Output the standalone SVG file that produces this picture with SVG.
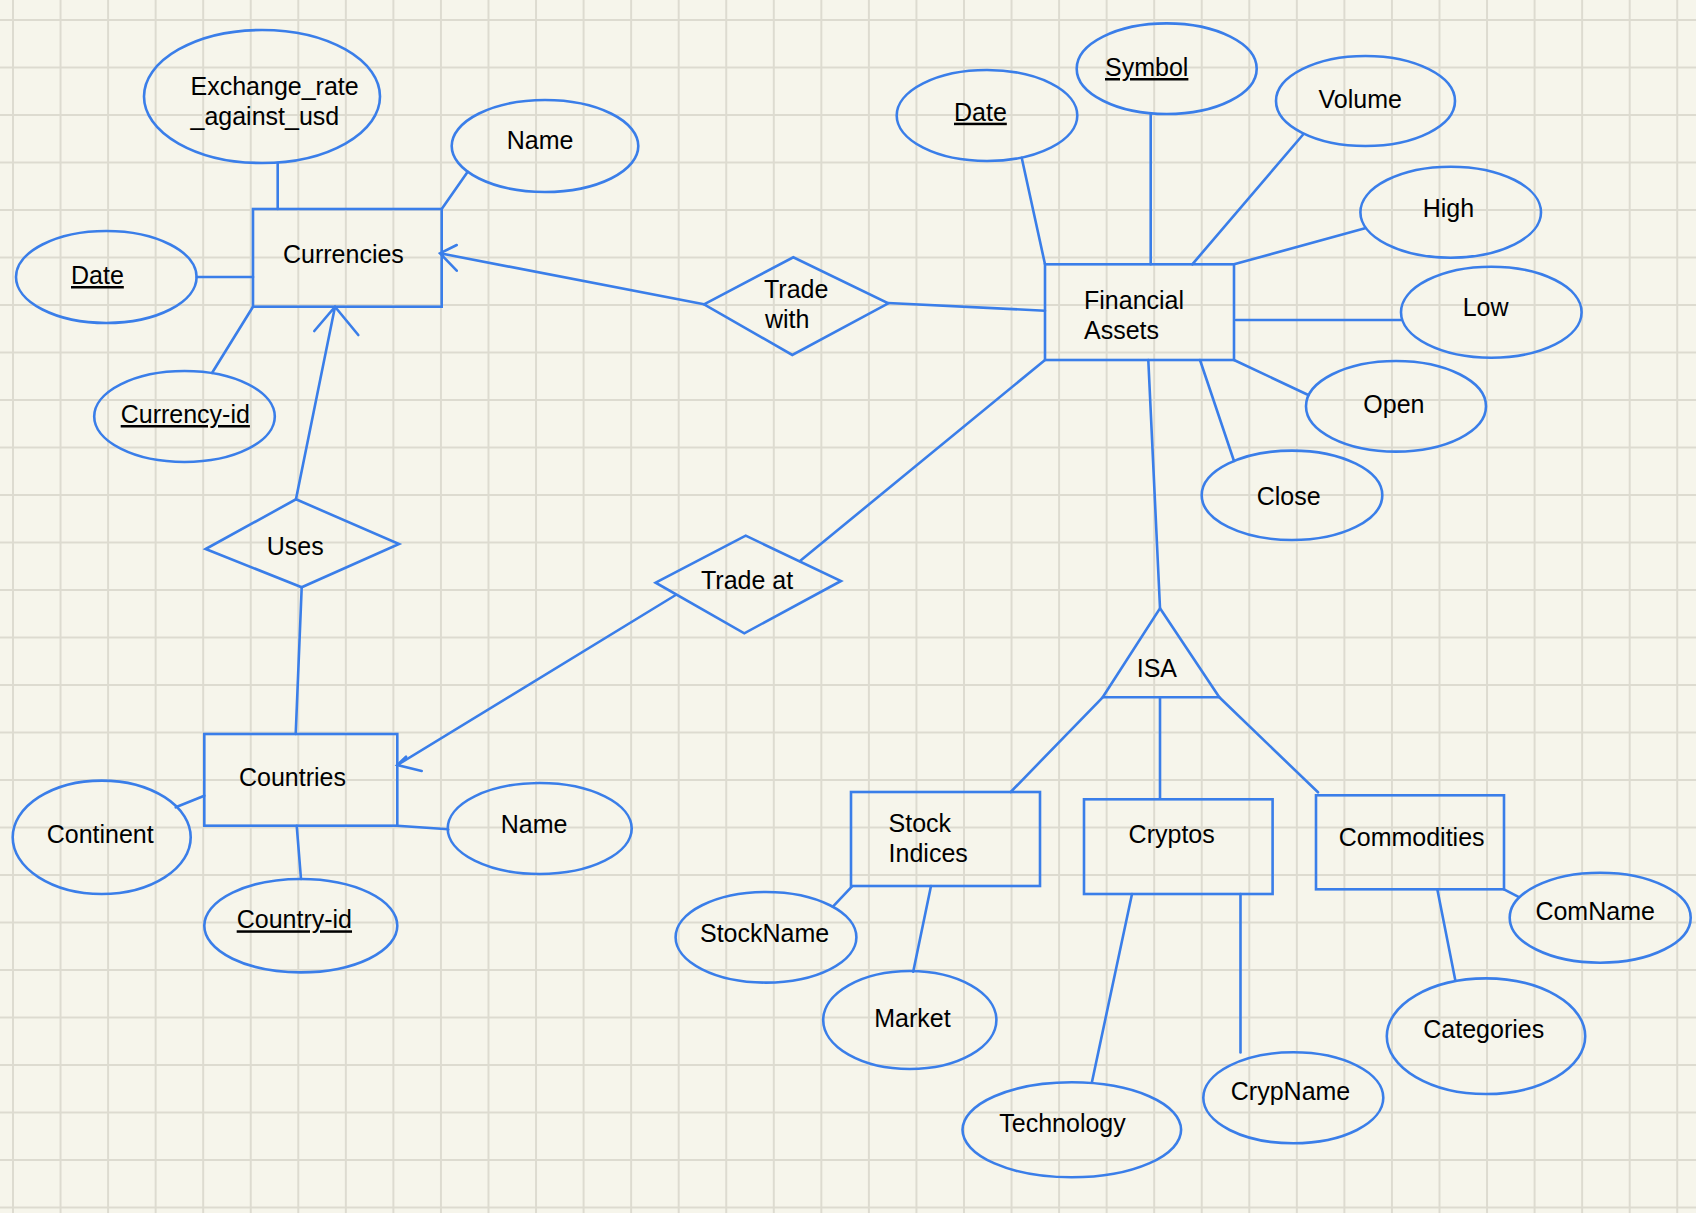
<svg xmlns="http://www.w3.org/2000/svg" width="1696" height="1213" viewBox="0 0 1696 1213">
<defs>
<pattern id="grid" patternUnits="userSpaceOnUse" x="12" y="19" width="47.55" height="47.5">
<path d="M1 0V47.5M0 1H47.55" stroke="#dddbd0" stroke-width="2" fill="none"/>
</pattern>
<style>
.s{fill:none;stroke:#3a7ee9;stroke-width:2.6;stroke-linecap:round;stroke-linejoin:miter}
.n{fill:none;stroke:#3a7ee9;stroke-width:2.6}
.t{font-family:"Liberation Sans",Arial,Helvetica,sans-serif;font-size:25px;fill:#000}
.u{text-decoration:underline}
</style>
</defs>
<rect x="0" y="0" width="1696" height="1213" fill="#f6f5eb"/>
<rect x="0" y="0" width="1696" height="1213" fill="url(#grid)"/>

<g id="connectors">
<path class="s" d="M277.7 163V209"/>
<path class="s" d="M467.7 171.7L441.7 209"/>
<path class="s" d="M196.7 277H253"/>
<path class="s" d="M212 373L253 306.7"/>
<path class="s" d="M296 499L335 306.7M314.3 331L335 306.7L358.3 335"/>
<path class="s" d="M704 304.3L440 253.3M456.7 245L440 253.3L456.7 270.7"/>
<path class="s" d="M888 303L1045 310.7"/>
<path class="s" d="M1021.7 157.7L1045 264.3"/>
<path class="s" d="M1150.7 114V264.3"/>
<path class="s" d="M1302.7 135L1192.3 264.3"/>
<path class="s" d="M1234 264.3L1365 228.3"/>
<path class="s" d="M1236 320H1401"/>
<path class="s" d="M1234 360L1308.3 395"/>
<path class="s" d="M1200 360L1234 461"/>
<path class="s" d="M1045 360L800 561"/>
<path class="s" d="M675.7 595L397.3 765M406 756.7L397.3 765L421.7 771"/>
<path class="s" d="M1148.3 360L1160 608"/>
<path class="s" d="M301.7 587.3L295.7 734"/>
<path class="s" d="M175.7 807.3L204.3 795.7"/>
<path class="s" d="M296.7 825.7L301 879"/>
<path class="s" d="M397.3 825.7L448.3 829.3"/>
<path class="s" d="M1102.7 697.3L1010.7 792"/>
<path class="s" d="M1160 697.3V798"/>
<path class="s" d="M1219.3 697.3L1318 792.3"/>
<path class="s" d="M851.8 886.7L832.9 906.7"/>
<path class="s" d="M931 886L913.2 971.7"/>
<path class="s" d="M1132 894L1091.8 1082.7"/>
<path class="s" d="M1240.5 894V1052.5"/>
<path class="s" d="M1504 889.3L1518 896.7"/>
<path class="s" d="M1437.3 889.3L1455.4 980.7"/>
</g>

<g id="currencies"><rect class="n" x="253" y="209" width="188.7" height="97.7"/><text class="t" x="283" y="263">Currencies</text></g>
<g id="exchange-rate"><ellipse class="n" cx="262" cy="96.5" rx="118" ry="66.5"/><text class="t" x="190.5" y="95">Exchange_rate</text><text class="t" x="190.5" y="125">_against_usd</text></g>
<g id="currency-name"><ellipse class="n" cx="545" cy="146" rx="93.3" ry="46"/><text class="t" x="506.7" y="149">Name</text></g>
<g id="currency-date"><ellipse class="n" cx="106.3" cy="277" rx="90.3" ry="46"/><text class="t u" x="71" y="284">Date</text></g>
<g id="currency-id"><ellipse class="n" cx="184.5" cy="416.5" rx="90.3" ry="45.5"/><text class="t u" x="120.7" y="423">Currency-id</text></g>

<g id="trade-with"><path class="n" d="M704 304.3L793.3 257.3L888.3 303.3L792.3 355Z"/><text class="t" x="764" y="297.7">Trade</text><text class="t" x="765" y="327.7">with</text></g>

<g id="financial-assets"><rect class="n" x="1045" y="264.3" width="189" height="95.7"/><text class="t" x="1084" y="309">Financial</text><text class="t" x="1084" y="339">Assets</text></g>
<g id="fa-date"><ellipse class="n" cx="987" cy="115.5" rx="90.3" ry="45.5"/><text class="t u" x="954" y="120.7">Date</text></g>
<g id="fa-symbol"><ellipse class="n" cx="1166.7" cy="68.7" rx="90" ry="45.3"/><text class="t u" x="1105" y="76">Symbol</text></g>
<g id="fa-volume"><ellipse class="n" cx="1365.5" cy="101" rx="89.5" ry="45"/><text class="t" x="1318.5" y="108.3">Volume</text></g>
<g id="fa-high"><ellipse class="n" cx="1450.7" cy="212.2" rx="90.3" ry="45.5"/><text class="t" x="1422.7" y="216.7">High</text></g>
<g id="fa-low"><ellipse class="n" cx="1491.3" cy="312.2" rx="90.3" ry="45.5"/><text class="t" x="1462.7" y="316">Low</text></g>
<g id="fa-open"><ellipse class="n" cx="1396" cy="406.3" rx="90" ry="45.3"/><text class="t" x="1363.3" y="413.3">Open</text></g>
<g id="fa-close"><ellipse class="n" cx="1292" cy="495.3" rx="90.3" ry="44.7"/><text class="t" x="1256.7" y="505">Close</text></g>

<g id="uses"><path class="n" d="M205.7 549L296 499.3L399 544L301.7 587.3Z"/><text class="t" x="266.7" y="555">Uses</text></g>
<g id="trade-at"><path class="n" d="M655.7 582.7L745.7 535.7L841 581L744.3 633.3Z"/><text class="t" x="701" y="589.3">Trade at</text></g>

<g id="countries"><rect class="n" x="204.3" y="734" width="193" height="91.7"/><text class="t" x="239" y="786">Countries</text></g>
<g id="continent"><ellipse class="n" cx="101.7" cy="837.3" rx="89" ry="56.7"/><text class="t" x="46.7" y="843.3">Continent</text></g>
<g id="country-id"><ellipse class="n" cx="300.8" cy="925.7" rx="96.5" ry="46.7"/><text class="t u" x="236.7" y="928.3">Country-id</text></g>
<g id="country-name"><ellipse class="n" cx="539.7" cy="828.5" rx="92" ry="45.5"/><text class="t" x="500.8" y="833">Name</text></g>

<g id="isa"><path class="n" d="M1160 608.3L1219.3 697.3H1102.7Z"/><text class="t" x="1136.7" y="677.3">ISA</text></g>

<g id="stock-indices"><rect class="n" x="851" y="792" width="189" height="94"/><text class="t" x="888.6" y="831.7">Stock</text><text class="t" x="888.6" y="861.7">Indices</text></g>
<g id="stockname"><ellipse class="n" cx="766" cy="937.3" rx="90.4" ry="45.3"/><text class="t" x="700" y="941.7">StockName</text></g>
<g id="market"><ellipse class="n" cx="909.8" cy="1020" rx="86.6" ry="49"/><text class="t" x="874.3" y="1026.7">Market</text></g>

<g id="cryptos"><rect class="n" x="1084" y="799.3" width="188.6" height="94.7"/><text class="t" x="1128.6" y="843.3">Cryptos</text></g>
<g id="technology"><ellipse class="n" cx="1071.8" cy="1129.8" rx="109.3" ry="47.5"/><text class="t" x="999.3" y="1131.7">Technology</text></g>
<g id="crypname"><ellipse class="n" cx="1293.3" cy="1097.8" rx="90" ry="45.5"/><text class="t" x="1230.8" y="1100">CrypName</text></g>

<g id="commodities"><rect class="n" x="1316" y="795.3" width="188" height="94"/><text class="t" x="1338.7" y="845.7">Commodities</text></g>
<g id="comname"><ellipse class="n" cx="1600.2" cy="917.7" rx="90.5" ry="45"/><text class="t" x="1535.4" y="920">ComName</text></g>
<g id="categories"><ellipse class="n" cx="1486" cy="1036.2" rx="99.2" ry="57.8"/><text class="t" x="1423.3" y="1038.3">Categories</text></g>
</svg>
